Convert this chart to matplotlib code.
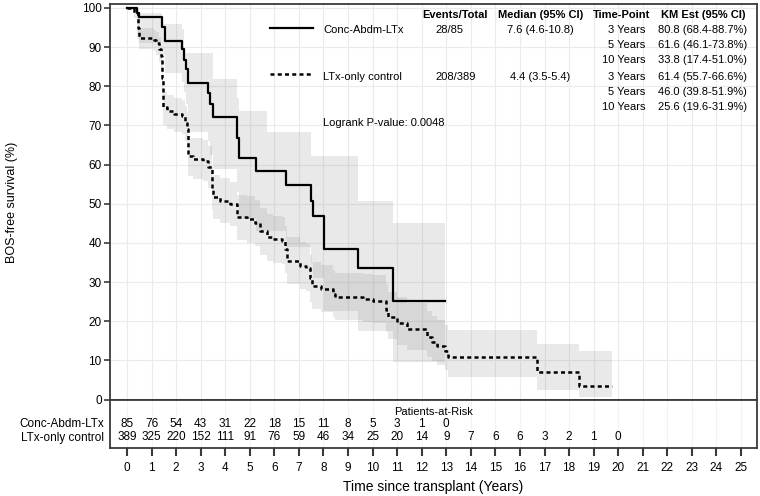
import numpy as np
import matplotlib
matplotlib.use("Agg")
import matplotlib.pyplot as plt
from matplotlib.lines import Line2D

plt.rcParams["font.family"] = ["Liberation Sans", "DejaVu Sans"]

W, H = 760, 496
FRAME = "#3a3a3a"
GRID = "#ebebeb"
BAND = "#7f7f7f"

# Kaplan-Meier estimates
conc_t = [0, 0.4, 0.5, 1.42, 1.55, 2.23, 2.33, 2.42, 2.5, 3.31, 3.4, 3.49, 4.49, 4.57,
          5.25, 6.47, 7.48, 7.59, 8.02, 9.42, 10.82, 12.95]
conc_s = [100, 98.8, 97.6, 95.2, 91.6, 89.4, 86.8, 84.3, 80.8, 78.4, 75.5, 72.1, 66.9, 61.6,
          58.4, 54.8, 50.8, 46.9, 38.4, 33.6, 25.2, 25.2]

conc_ci_t = [0, 0.4, 0.5, 1.42, 1.55, 2.23, 2.33, 2.42, 2.5, 3.31, 3.4, 3.49, 4.49, 4.57,
             5.25, 5.69, 6.47, 7.48, 7.59, 8.02, 9.42, 10.82, 12.95]
conc_hi = [100, 99.8, 98.8, 95.8, 95.8, 94.5, 88.6, 88.6, 88.6, 88.6, 88.6, 81.8, 77.0, 73.7,
           73.7, 68.2, 68.2, 62.2, 62.2, 62.2, 50.8, 45.2, 45.2]
conc_lo = [100, 92.5, 91.0, 88.0, 83.5, 81.0, 78.5, 75.5, 68.4, 66.0, 62.5, 59.0, 53.0, 46.1,
           43.0, 43.0, 39.0, 35.0, 31.0, 22.5, 17.4, 9.5, 9.5]

ltx_t = [0, 0.3, 0.45, 0.5, 1.1, 1.2, 1.3, 1.4, 1.44, 1.48, 1.62, 1.9, 2.23, 2.36, 2.43,
         2.47, 2.5, 2.7, 3.11, 3.31, 3.45, 3.48, 3.51, 3.79, 4.19, 4.47, 4.49, 4.87, 5.21,
         5.42, 5.69, 5.96, 6.3, 6.45, 6.5, 7.04, 7.3, 7.45, 7.52, 7.9, 8.4, 8.47, 9.62, 10.0,
         10.55, 10.64, 11.0, 11.39, 12.22, 12.4, 12.61, 12.95, 13.08, 16.68, 18.42, 19.73]
ltx_s = [100, 98.8, 95.0, 92.3, 91.8, 91.0, 89.5, 87.8, 82.0, 74.6, 73.7, 72.9, 72.4, 70.7,
         69.0, 65.0, 62.2, 61.4, 61.0, 59.3, 57.6, 54.0, 51.6, 50.8, 49.9, 49.5, 46.5, 46.1,
         45.2, 43.1, 41.4, 41.0, 40.6, 38.4, 35.5, 34.2, 33.7, 31.0, 29.1, 28.2, 27.0, 26.1,
         25.7, 25.3, 23.0, 21.0, 19.5, 18.0, 16.0, 14.8, 13.8, 12.5, 10.8, 7.0, 3.4, 3.4]
ltx_hi = [100, 99.8, 98.5, 94.8, 94.4, 93.8, 92.5, 90.8, 86.0, 78.6, 77.8, 77.0, 76.5, 75.0,
          73.3, 69.5, 66.9, 66.8, 66.4, 64.8, 63.1, 59.5, 57.3, 56.5, 55.6, 55.2, 52.3, 51.9,
          51.0, 49.0, 47.3, 46.9, 46.5, 44.3, 41.5, 40.2, 39.7, 37.0, 35.1, 34.3, 33.1, 32.3,
          32.0, 31.9, 29.6, 27.6, 26.1, 24.6, 22.6, 21.4, 20.4, 19.0, 17.8, 14.2, 12.5, 12.5]
ltx_lo = [100, 97.5, 92.0, 89.5, 88.9, 88.0, 86.3, 84.4, 78.0, 70.1, 69.1, 68.3, 67.7, 66.0,
          64.2, 60.0, 57.0, 56.2, 55.7, 54.0, 52.3, 48.5, 46.0, 45.2, 44.2, 43.8, 40.8, 40.0,
          39.2, 37.0, 35.3, 34.9, 34.5, 32.3, 29.5, 28.2, 27.7, 25.0, 23.2, 22.3, 21.1, 20.3,
          19.9, 19.6, 17.3, 15.4, 14.0, 12.6, 10.8, 9.8, 8.8, 7.6, 5.7, 2.5, 0.6, 0.6]

risk_years = list(range(21))
conc_risk = [85, 76, 54, 43, 31, 22, 18, 15, 11, 8, 5, 3, 1, 0]
ltx_risk = [389, 325, 220, 152, 111, 91, 76, 59, 46, 34, 25, 20, 14, 9, 7, 6, 6, 3, 2, 1, 0]
groups = ["Conc-Abdm-LTx", "LTx-only control"]

header = ["Events/Total", "Median (95% CI)", "Time-Point", "KM Est (95% CI)"]
events = ["28/85", "208/389"]
medians = ["7.6 (4.6-10.8)", "4.4 (3.5-5.4)"]
timepoints = ["3 Years", "5 Years", "10 Years"]
km_est = [["80.8 (68.4-88.7%)", "61.6 (46.1-73.8%)", "33.8 (17.4-51.0%)"],
          ["61.4 (55.7-66.6%)", "46.0 (39.8-51.9%)", "25.6 (19.6-31.9%)"]]
pvalue = "Logrank P-value: 0.0048"


def fx(px):
    return px / W


def fy(py):
    return 1 - py / H


def style_frame(ax):
    for s in ax.spines.values():
        s.set_color(FRAME)
        s.set_linewidth(1.3)


fig = plt.figure(figsize=(W / 100, H / 100), dpi=100)
ax = fig.add_axes([fx(110), fy(400), fx(757) - fx(110), fy(4) - fy(400)])
axr = fig.add_axes([fx(110), fy(448), fx(757) - fx(110), fy(400) - fy(448)])

xlim = (-0.69, 25.65)

# main survival panel
ax.set_axisbelow(True)
ax.fill_between(conc_ci_t, conc_lo, conc_hi, step="post", color=BAND, alpha=0.17, lw=0)
ax.fill_between(ltx_t, ltx_lo, ltx_hi, step="post", color=BAND, alpha=0.17, lw=0)
ax.step(conc_t, conc_s, where="post", color="black", lw=1.6)
ax.step(ltx_t, ltx_s, where="post", color="black", lw=1.8, linestyle=(0, (1.6, 1.3)))
ax.set_xlim(*xlim)
ax.set_ylim(-0.1, 101)
ax.set_xticks(range(26))
ax.set_yticks(range(0, 101, 10))
ax.tick_params(axis="x", length=0, labelbottom=False)
ax.tick_params(axis="y", direction="out", length=4, width=1.2, labelsize=8.5, color=FRAME, pad=2)
ax.grid(True, color=GRID, lw=0.8)
style_frame(ax)

# patients at risk panel
axr.set_xlim(*xlim)
axr.set_ylim(0, 1)
axr.set_axisbelow(True)
axr.set_xticks(range(26))
axr.set_yticks([])
axr.tick_params(axis="x", direction="out", length=6, width=1.5, labelsize=8.5, color=FRAME, pad=4)
axr.grid(True, axis="x", color="#f3f3f3", lw=0.8)
style_frame(axr)
axr.text(0.5, 0.76, "Patients-at-Risk", transform=axr.transAxes, ha="center", va="center", fontsize=8)
for i, n in enumerate(conc_risk):
    axr.text(risk_years[i], 0.5, str(n), ha="center", va="center", fontsize=8.5)
for i, n in enumerate(ltx_risk):
    axr.text(risk_years[i], 0.22, str(n), ha="center", va="center", fontsize=8.5)
fig.text(fx(104), fy(424), groups[0], ha="right", va="center", fontsize=8.5)
fig.text(fx(104), fy(438), groups[1], ha="right", va="center", fontsize=8.5)

fig.text(fx(433), fy(487), "Time since transplant (Years)", ha="center", va="center", fontsize=10)
fig.text(fx(12), fy(202), "BOS-free survival (%)", ha="center", va="center", rotation=90, fontsize=9)

# legend table
fig.add_artist(Line2D([fx(270), fx(313)], [fy(28), fy(28)], color="black", lw=1.6))
fig.add_artist(Line2D([fx(270), fx(311)], [fy(73.5), fy(73.5)], color="black", lw=1.8,
                      linestyle=(0, (1.6, 1.3))))
hdr_x = [455, 541, 622, 703]
for x, h in zip(hdr_x, header):
    fig.text(fx(x), fy(15), h, ha="center", va="center", fontsize=8, fontweight="bold")
row_y = [[30, 45, 60], [76.7, 91.7, 106.7]]
for g in range(2):
    y0 = row_y[g][0]
    fig.text(fx(323), fy(y0), groups[g], ha="left", va="center", fontsize=8)
    fig.text(fx(435), fy(y0), events[g], ha="left", va="center", fontsize=8)
    fig.text(fx(540), fy(y0), medians[g], ha="center", va="center", fontsize=8)
    for k in range(3):
        fig.text(fx(645), fy(row_y[g][k]), timepoints[k], ha="right", va="center", fontsize=8)
        fig.text(fx(658), fy(row_y[g][k]), km_est[g][k], ha="left", va="center", fontsize=8)
fig.text(fx(323), fy(123), pvalue, ha="left", va="center", fontsize=8)

fig.savefig("out.png", dpi=100, facecolor="white")
